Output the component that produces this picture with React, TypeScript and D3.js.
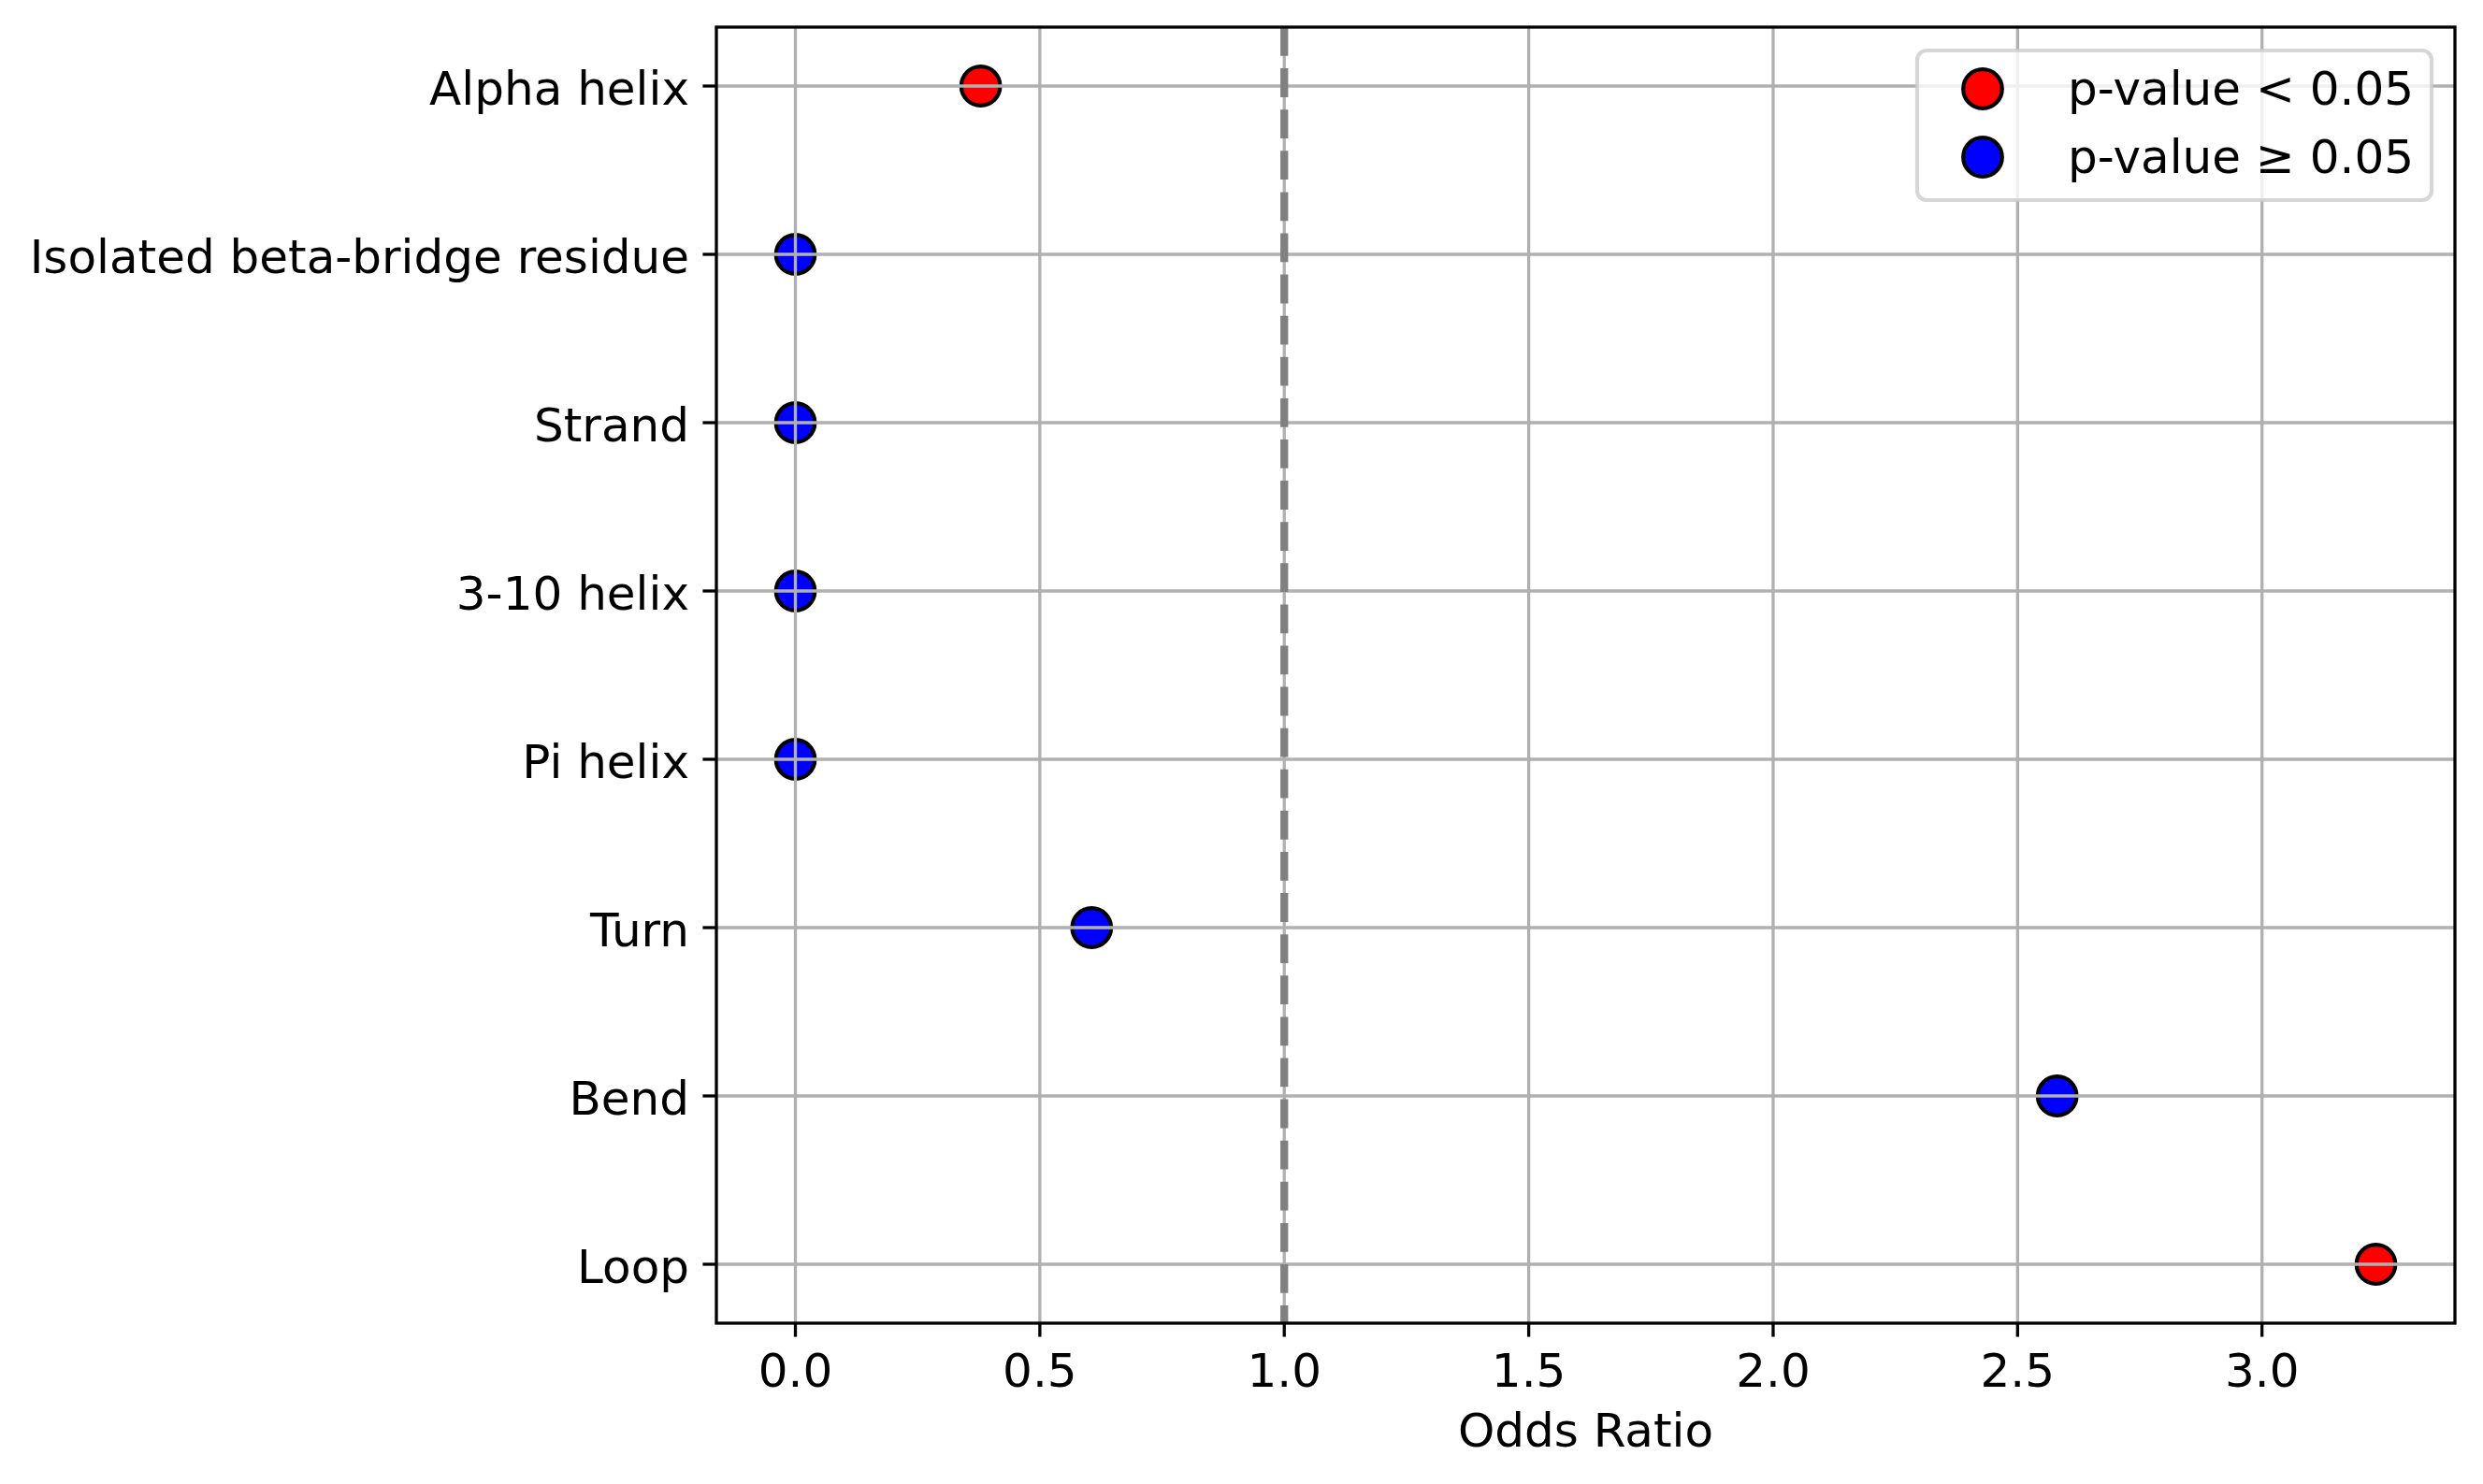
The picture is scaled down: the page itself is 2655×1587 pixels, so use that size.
import * as d3 from "d3";

// structure categories, top to bottom
const categories = [
  "Alpha helix",
  "Isolated beta-bridge residue",
  "Strand",
  "3-10 helix",
  "Pi helix",
  "Turn",
  "Bend",
  "Loop",
];
const oddsRatios = [0.379, 0, 0, 0, 0, 0.606, 2.581, 3.233];
const significant = [true, false, false, false, false, false, false, true];
const xTicks = [0, 0.5, 1, 1.5, 2, 2.5, 3];
const legendLabels = ["p-value < 0.05", "p-value \u2265 0.05"];
const legendColors = ["red", "blue"];

const W = 2655;
const H = 1587;
const m = { left: 766, right: 2625, top: 29, bottom: 1415 };
const font = "'DejaVu Sans', sans-serif";
const fs = 50;
const gridColor = "#b0b0b0";

export default function App() {
  const xMax = d3.max(oddsRatios) ?? 1;
  const x = d3
    .scaleLinear()
    .domain([-0.05 * xMax, xMax * 1.05])
    .range([m.left, m.right]);
  const y = d3
    .scalePoint<string>()
    .domain(categories)
    .range([m.top, m.bottom])
    .padding(0.35);

  const r = 20.8;
  const legW = 550;
  const legX = m.right - 25 - legW;
  const legY = m.top + 25;

  return (
    <svg
      width={W}
      height={H}
      style={{ position: "absolute", left: 0, top: 0, background: "white" }}
      fontFamily={font}
      fontSize={fs}
    >
      <rect width={W} height={H} fill="white" />

      {/* points */}
      {categories.map((c, i) => (
        <circle
          key={c}
          cx={x(oddsRatios[i])}
          cy={y(c)}
          r={r}
          fill={significant[i] ? "red" : "blue"}
          stroke="black"
          strokeWidth={4.2}
        />
      ))}

      {/* grid on top of points */}
      <g stroke={gridColor} strokeWidth={3.3}>
        {xTicks.map((t) => (
          <line key={t} x1={x(t)} x2={x(t)} y1={m.top} y2={m.bottom} />
        ))}
        {categories.map((c) => (
          <line key={c} x1={m.left} x2={m.right} y1={y(c)} y2={y(c)} />
        ))}
      </g>

      {/* reference line at OR = 1 */}
      <line
        x1={x(1)}
        x2={x(1)}
        y1={m.top}
        y2={m.bottom}
        stroke="#808080"
        strokeWidth={8.3}
        strokeDasharray="30.8 13.3"
      />

      {/* spines */}
      <rect
        x={m.left}
        y={m.top}
        width={m.right - m.left}
        height={m.bottom - m.top}
        fill="none"
        stroke="black"
        strokeWidth={3.3}
      />

      {/* x axis */}
      {xTicks.map((t) => (
        <g key={t}>
          <line
            x1={x(t)}
            x2={x(t)}
            y1={m.bottom}
            y2={m.bottom + 14.6}
            stroke="black"
            strokeWidth={3.3}
          />
          <text x={x(t)} y={m.bottom + 68} textAnchor="middle">
            {d3.format(".1f")(t)}
          </text>
        </g>
      ))}
      <text x={(m.left + m.right) / 2} y={m.bottom + 132} textAnchor="middle">
        Odds Ratio
      </text>

      {/* y axis */}
      {categories.map((c) => (
        <g key={c}>
          <line
            x1={m.left - 14.6}
            x2={m.left}
            y1={y(c)}
            y2={y(c)}
            stroke="black"
            strokeWidth={3.3}
          />
          <text x={m.left - 29} y={(y(c) ?? 0) + 20} textAnchor="end">
            {c}
          </text>
        </g>
      ))}

      {/* legend */}
      <rect
        x={legX}
        y={legY}
        width={legW}
        height={160}
        rx={10}
        fill="white"
        fillOpacity={0.8}
        stroke="#cccccc"
        strokeOpacity={0.8}
        strokeWidth={4.2}
      />
      {legendLabels.map((l, i) => (
        <g key={l}>
          <circle
            cx={legX + 70}
            cy={legY + 41 + i * 73}
            r={r}
            fill={legendColors[i]}
            stroke="black"
            strokeWidth={4.2}
          />
          <text x={legX + 161} y={legY + 41 + i * 73 + 17}>
            {l}
          </text>
        </g>
      ))}
    </svg>
  );
}
